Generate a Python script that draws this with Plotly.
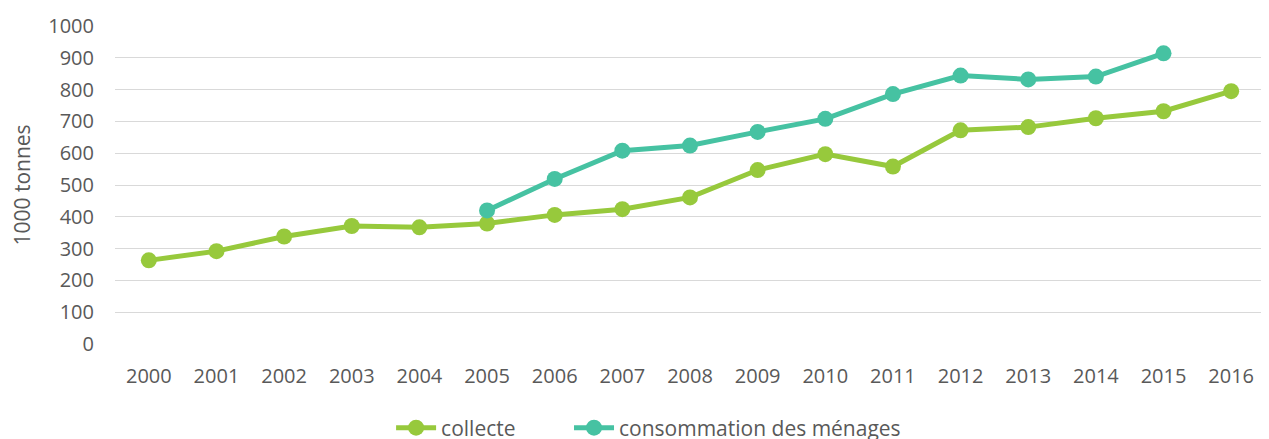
import plotly.graph_objects as go

years = [str(y) for y in range(2000, 2017)]
collecte = [263, 292, 338, 371, 367, 379, 406, 424, 461, 547, 597, 558, 672, 682, 710, 732, 795]
conso_years = [str(y) for y in range(2005, 2016)]
consommation = [420, 519, 608, 624, 667, 708, 786, 844, 832, 841, 914]
y_ticks = list(range(0, 1001, 100))

GREEN = "#97C93C"
TEAL = "#46C2A2"
FONT = "Open Sans"
TXT = "#595959"

fig = go.Figure()
fig.add_trace(go.Scatter(x=years, y=collecte, name="collecte", mode="lines+markers",
                         line=dict(color=GREEN, width=5), marker=dict(size=16, color=GREEN),
                         legend="legend"))
fig.add_trace(go.Scatter(x=conso_years, y=consommation, name="consommation des ménages",
                         mode="lines+markers",
                         line=dict(color=TEAL, width=5), marker=dict(size=16, color=TEAL),
                         legend="legend2"))

leg_common = dict(orientation="h", xref="container", yref="container",
                  xanchor="left", y=0.0255, yanchor="middle",
                  font=dict(family=FONT, size=21, color=TXT), itemwidth=40,
                  bgcolor="rgba(0,0,0,0)")

fig.update_layout(
    width=1261, height=431,
    margin=dict(l=107, r=4, t=16, b=95),
    plot_bgcolor="white", paper_bgcolor="white",
    font=dict(family=FONT, size=20, color=TXT),
    showlegend=True,
    legend=dict(x=0.3038, **leg_common),
    legend2=dict(x=0.4449, **leg_common),
    xaxis=dict(type="category", categoryorder="array", categoryarray=years,
               range=[-0.5, 16.5], showgrid=False, showline=False, ticks="",
               ticklabelstandoff=18, tickfont=dict(size=20, color=TXT)),
    yaxis=dict(range=[0, 1000], tickvals=y_ticks, showgrid=True, gridcolor="#D9D9D9",
               gridwidth=1.3, zeroline=False, showline=False, ticks="",
               ticklabelstandoff=20, tickfont=dict(size=20, color=TXT),
               title=dict(text="1000 tonnes", standoff=14, font=dict(size=21, color=TXT))),
)

fig.write_html("out.html")
